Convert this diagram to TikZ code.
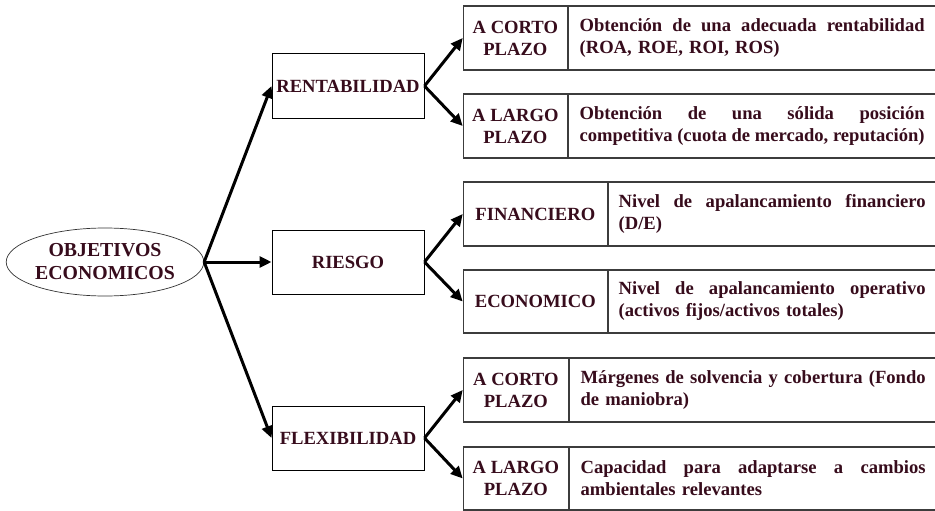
\documentclass[tikz,border=0pt]{standalone}
\usepackage{fontspec}
\setmainfont{Liberation Serif}
\usetikzlibrary{arrows.meta,shapes.geometric}
\definecolor{txt}{RGB}{55,12,28}
\definecolor{boxline}{RGB}{60,60,60}
\hyphenpenalty=10000
\exhyphenpenalty=10000
\newcommand\jline[2]{\makebox[#1][s]{\spaceskip=0.25em plus 1fil\xspaceskip=0.25em plus 1fil #2}}
\tikzset{
  base/.style={font=\bfseries\fontsize{18.6}{22}\selectfont, text=txt},
  midbox/.style={base, draw=black, line width=1pt, rectangle, minimum width=152pt, minimum height=64pt, inner sep=0pt, align=center},
  leftcell/.style={base, draw=boxline, line width=1.3pt, rectangle, minimum height=64pt, inner sep=0pt, align=center, anchor=east},
  rightcell/.style={base, draw=boxline, line width=1.3pt, rectangle, minimum height=64pt, inner ysep=0pt, inner xsep=11pt, anchor=west, align=left},
  conn/.style={line width=3pt, -{Triangle[length=12pt,width=11pt]}},
}
\begin{document}
\begin{tikzpicture}[x=1pt,y=-1pt]
\useasboundingbox (0,0) rectangle (935,511);
\fill[white] (0,0) rectangle (935,511);
% root
\node[base, font=\bfseries\fontsize{19.8}{23}\selectfont, ellipse, draw=black!80, line width=0.7pt, minimum width=195pt, minimum height=68pt, inner sep=0pt, align=center] (obj) at (105,262) {OBJETIVOS\\ECONOMICOS};
% middle
\node[midbox] (rent) at (348,86) {RENTABILIDAD};
\node[midbox] (ries) at (348,262) {RIESGO};
\node[midbox] (flex) at (348,438) {FLEXIBILIDAD};
% rows
\node[leftcell, minimum width=104pt, minimum height=64pt] (r1l) at (568,38) {A CORTO\\PLAZO};
\node[rightcell, minimum height=64pt, text width=345pt] (r1r) at (r1l.east) {\jline{345pt}{Obtención de una adecuada rentabilidad}\\(ROA, ROE, ROI, ROS)};
\node[leftcell, minimum width=104pt, minimum height=64pt] (r2l) at (568,126) {A LARGO\\PLAZO};
\node[rightcell, minimum height=64pt, text width=345pt] (r2r) at (r2l.east) {\jline{345pt}{Obtención de una sólida posición}\\\jline{345pt}{competitiva (cuota de mercado, reputación)}};
\node[leftcell, minimum width=144pt, minimum height=64pt] (r3l) at (608,214) {FINANCIERO};
\node[rightcell, minimum height=64pt, text width=307pt, inner xsep=10pt] (r3r) at (r3l.east) {\jline{307pt}{Nivel de apalancamiento financiero}\\(D/E)};
\node[leftcell, minimum width=144pt, minimum height=63pt] (r4l) at (608,301.5) {ECONOMICO};
\node[rightcell, minimum height=63pt, text width=307pt, inner xsep=10pt] (r4r) at (r4l.east) {\jline{307pt}{Nivel de apalancamiento operativo}\\(activos fijos/activos totales)};
\node[leftcell, minimum width=105pt, minimum height=64pt] (r5l) at (569,390) {A CORTO\\PLAZO};
\node[rightcell, minimum height=64pt, text width=345pt] (r5r) at (r5l.east) {\jline{345pt}{Márgenes de solvencia y cobertura (Fondo}\\de maniobra)};
\node[leftcell, minimum width=105pt, minimum height=63pt] (r6l) at (569,478.5) {A LARGO\\PLAZO};
\node[rightcell, minimum height=63pt, text width=345pt] (r6r) at (r6l.east) {\jline{345pt}{Capacidad para adaptarse a cambios}\\ambientales relevantes};
% connectors
\draw[conn] (obj.east) -- (rent.west);
\draw[conn] (obj.east) -- (ries.west);
\draw[conn] (obj.east) -- (flex.west);
\draw[conn] (rent.east) -- (r1l.west);
\draw[conn] (rent.east) -- (r2l.west);
\draw[conn] (ries.east) -- (r3l.west);
\draw[conn] (ries.east) -- (r4l.west);
\draw[conn] (flex.east) -- (r5l.west);
\draw[conn] (flex.east) -- (r6l.west);
\end{tikzpicture}
\end{document}
